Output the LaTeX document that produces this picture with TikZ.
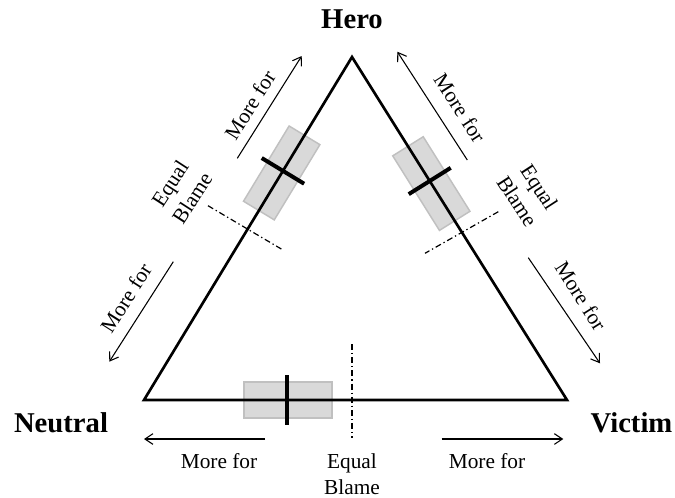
\documentclass[tikz,border=0pt]{standalone}
\usepackage{fontspec}
\setmainfont{Liberation Serif}
\usetikzlibrary{arrows.meta}

\definecolor{boxfill}{RGB}{217,217,217}
\definecolor{boxline}{RGB}{192,192,192}

\tikzset{
  side/.style={line width=2pt},
  blamebox/.style={draw=boxline, fill=boxfill, line width=1.1pt,
    minimum width=66pt, minimum height=27pt, inner sep=0pt},
  tickmark/.style={inner sep=0pt, minimum width=0pt, minimum height=36.75pt},
  tickline/.style={line width=3pt},
  morefor/.style={-{Straight Barb[length=6pt,width=8pt]}, line width=0.8pt},
  equalline/.style={line width=0.9pt, dash pattern=on 4.5pt off 2.2pt on 1pt off 2.2pt},
  lab/.style={font=\fontsize{16}{19.8}\selectfont, inner sep=0pt, align=center},
  corner/.style={font=\fontsize{21.5}{26}\selectfont\bfseries, inner sep=0pt},
}

\begin{document}
\begin{tikzpicture}[x=0.75pt, y=-0.75pt]
    \useasboundingbox (0,0) rectangle (675,497);
    % corners
    \coordinate (H) at (352,57);
    \coordinate (N) at (144,400);
    \coordinate (V) at (567,400);
    \node[corner] (hero) at (352,19) {Hero};
    \node[corner] (neutral) at (61,422.5) {Neutral};
    \node[corner] (victim) at (631.5,422.5) {Victim};

    % grey boxes
    \path (N) -- node[pos=0.662, sloped, blamebox] (boxL) {} (H);
    \path (H) -- node[pos=0.369, sloped, blamebox] (boxR) {} (V);
    \path (N) -- node[pos=0.34, sloped, blamebox] (boxB) {} (V);

    % triangle
    \draw[side] (H) -- (N) -- (V) -- cycle;

    % marks
    \path (N) -- node[pos=0.668, sloped, tickmark] (tickL) {} (H);
    \path (H) -- node[pos=0.3615, sloped, tickmark] (tickR) {} (V);
    \path (N) -- node[pos=0.339, sloped, tickmark] (tickB) {} (V);
    \draw[tickline] (tickL.north) -- (tickL.south);
    \draw[tickline] (tickR.north) -- (tickR.south);
    \draw[tickline] (tickB.north) -- (tickB.south);

    % equal blame lines
    \coordinate (eqL1) at (208,205.7);
    \coordinate (eqL2) at (283,250);
    \coordinate (eqR1) at (498.3,211.7);
    \coordinate (eqR2) at (425,253.3);
    \coordinate (eqB1) at (352,344);
    \coordinate (eqB2) at (352,438);
    \draw[equalline] (eqL1) -- (eqL2);
    \draw[equalline] (eqR1) -- (eqR2);
    \draw[equalline] (eqB1) -- (eqB2);
    \node[lab, rotate=57] (eqtextL) at (181,191) {Equal\\Blame};
    \node[lab, rotate=-57] (eqtextR) at (528.3,194.2) {Equal\\Blame};
    \node[lab] (eqtextB) at (352,474) {Equal\\Blame};

    % arrows
    \coordinate (ulA) at (237.3,158.3);
    \coordinate (ulB) at (301.7,56);
    \coordinate (urA) at (467.3,160);
    \coordinate (urB) at (397.3,51.7);
    \coordinate (llA) at (173.3,261.7);
    \coordinate (llB) at (109.3,361.7);
    \coordinate (lrA) at (528.3,257.7);
    \coordinate (lrB) at (600,363.3);
    \coordinate (blA) at (265,439);
    \coordinate (blB) at (144,439);
    \coordinate (brA) at (441.7,439);
    \coordinate (brB) at (563.3,439);
    \draw[morefor] (ulA) -- (ulB);
    \draw[morefor] (urA) -- (urB);
    \draw[morefor] (llA) -- (llB);
    \draw[morefor] (lrA) -- (lrB);
    \draw[morefor] (blA) -- (blB);
    \draw[morefor] (brA) -- (brB);
    \node[lab, rotate=57.8] (moreUL) at (250,105) {More for};
    \node[lab, rotate=-57] (moreUR) at (460,108) {More for};
    \node[lab, rotate=57.4] (moreLL) at (126,298) {More for};
    \node[lab, rotate=-57.5] (moreLR) at (581,296) {More for};
    \node[lab] (moreBL) at (219,461) {More for};
    \node[lab] (moreBR) at (487,461) {More for};
\end{tikzpicture}
\end{document}
